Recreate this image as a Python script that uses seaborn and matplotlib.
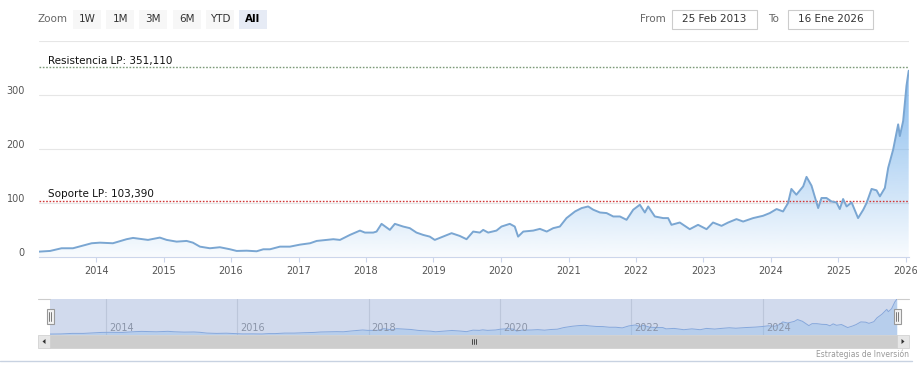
import numpy as np
import pandas as pd
import seaborn as sns
import matplotlib
matplotlib.use("Agg")
from matplotlib import pyplot as plt
import matplotlib.dates as mdates
import matplotlib.transforms as mtransforms
from matplotlib.patches import Rectangle, Polygon
from matplotlib.lines import Line2D
from matplotlib.colors import to_rgb

# datos
fechas = [
    "2013-02-25", "2013-04-27", "2013-06-28", "2013-08-29", "2013-10-15", "2013-12-08",
    "2014-01-22", "2014-04-02", "2014-06-15", "2014-07-20", "2014-09-12", "2014-10-09", "2014-12-12",
    "2015-01-18", "2015-03-13", "2015-05-06", "2015-06-09", "2015-07-17", "2015-09-09", "2015-11-02", "2015-12-27",
    "2016-02-01", "2016-03-26", "2016-05-19", "2016-06-24", "2016-07-30", "2016-09-22", "2016-11-15",
    "2017-01-08", "2017-03-04", "2017-04-09", "2017-06-02", "2017-07-08", "2017-08-13", "2017-10-06", "2017-11-29", "2017-12-26",
    "2018-02-09", "2018-02-27", "2018-03-26", "2018-05-10", "2018-06-06", "2018-07-21", "2018-08-26", "2018-10-01", "2018-11-06", "2018-12-12",
    "2019-01-08", "2019-02-22", "2019-04-09", "2019-05-23", "2019-06-29", "2019-08-04", "2019-09-09", "2019-09-27", "2019-10-24", "2019-12-08",
    "2020-01-04", "2020-02-18", "2020-03-16", "2020-04-03", "2020-05-01", "2020-06-24", "2020-07-30", "2020-09-05", "2020-10-10", "2020-11-15", "2020-12-21",
    "2021-02-05", "2021-03-13", "2021-04-17", "2021-05-15", "2021-06-20", "2021-07-26", "2021-08-31", "2021-10-06", "2021-11-11", "2021-12-17",
    "2022-01-22", "2022-02-18", "2022-03-08", "2022-04-13", "2022-05-28", "2022-06-24", "2022-07-12", "2022-08-26", "2022-10-19", "2022-12-03",
    "2023-01-18", "2023-02-22", "2023-04-09", "2023-05-15", "2023-06-29", "2023-08-04", "2023-09-27", "2023-11-20", "2023-12-26",
    "2024-02-01", "2024-03-07", "2024-04-03", "2024-04-21", "2024-05-18", "2024-06-24", "2024-07-12", "2024-08-08", "2024-09-13",
    "2024-10-01", "2024-10-28", "2024-11-24", "2024-12-21",
    "2025-01-08", "2025-01-26", "2025-02-14", "2025-03-13", "2025-04-17", "2025-05-15", "2025-06-02", "2025-06-29", "2025-07-26",
    "2025-08-13", "2025-09-09", "2025-09-27", "2025-10-24", "2025-11-20", "2025-11-29", "2025-12-17",
    "2026-01-04", "2026-01-16",
]
valores = [
    9.0, 10.3, 15.3, 15.3, 19.6, 24.6,
    25.7, 24.6, 32.1, 34.5, 32.1, 30.8, 35.1,
    30.8, 27.6, 28.9, 25.7, 18.3, 15.3, 17.2, 13.4,
    10.3, 10.8, 9.7, 13.4, 13.4, 18.3, 18.3,
    22.0, 24.6, 28.9, 30.8, 32.1, 30.8, 40.1, 48.1, 44.4,
    44.4, 46.3, 60.6, 49.4, 60.6, 55.6, 52.6, 44.4, 40.1, 36.9,
    30.8, 36.9, 43.3, 38.2, 32.1, 46.3, 44.4, 49.4, 44.4, 48.1,
    55.6, 60.6, 55.6, 36.9, 46.3, 48.1, 51.3, 46.3, 52.6, 55.6, 71.3,
    83.6, 89.9, 92.9, 86.8, 81.7, 80.6, 74.3, 74.3, 68.1, 86.8,
    96.1, 81.7, 92.9, 74.3, 71.3, 71.3, 58.8, 63.1, 50.7, 58.8,
    50.7, 63.1, 56.9, 63.1, 69.4, 64.9, 71.3, 75.6, 80.6,
    88.1, 83.6, 99.3, 125.4, 114.7, 130.2, 147.8, 131.5, 89.9,
    108.6, 108.6, 102.2, 100.4,
    88.1, 106.7, 92.9, 100.4, 71.3, 86.8, 99.3, 125.4, 122.8,
    111.6, 127.2, 164.6, 198.7, 245.3, 223.5, 251.5,
    316.8, 344.8,
]
resistencia = 351.110
soporte = 103.390
etiqueta_resistencia = "Resistencia LP: 351,110"
etiqueta_soporte = "Soporte LP: 103,390"
anios = list(range(2014, 2027))
anios_nav = list(range(2014, 2025, 2))
botones = ["1W", "1M", "3M", "6M", "YTD", "All"]
fecha_desde = "25 Feb 2013"
fecha_hasta = "16 Ene 2026"
credito = "Estrategias de Inversión"

W, H = 917, 379
sns.set_style("white")
plt.rcParams['font.family'] = ['DejaVu Sans']

df = pd.DataFrame({'fecha': pd.to_datetime(fechas), 'valor': valores})
x0, x1 = df['fecha'].iloc[0], df['fecha'].iloc[-1]
n0, n1 = mdates.date2num(x0), mdates.date2num(x1)
vmax = df['valor'].max()

fig = plt.figure(figsize=(W / 100, H / 100), dpi=100)


def caja(x, y, w, h):
    return [x / W, 1 - (y + h) / H, w / W, h / H]


def rect(x, y, w, h, **kw):
    fig.add_artist(Rectangle((x / W, 1 - (y + h) / H), w / W, h / H,
                             transform=fig.transFigure, **kw))


def texto(x, y, s, **kw):
    fig.text(x / W, 1 - y / H, s, **kw)


def linea(xs, ys, **kw):
    fig.add_artist(Line2D([v / W for v in xs], [1 - v / H for v in ys],
                          transform=fig.transFigure, **kw))


# grafico principal
ax = fig.add_axes(caja(38.8, 41, 869.9, 215.5))
sns.lineplot(data=df, x='fecha', y='valor', ax=ax, color='#7aa6d2', linewidth=1.4, zorder=4)
relleno = ax.fill_between(df['fecha'], df['valor'], 0, facecolor='none', edgecolor='none')
grad = np.zeros((256, 1, 4))
grad[..., :3] = to_rgb('#7cb5ec')
grad[..., 3] = 0.05 + 0.9 * np.linspace(0, 1, 256).reshape(-1, 1)
im = ax.imshow(grad, extent=[n0, n1, 0, vmax], origin='lower', aspect='auto', zorder=2)
im.set_clip_path(relleno.get_paths()[0], transform=ax.transData)

ax.axhline(resistencia, color='#7b9a78', lw=1, ls=(0, (1.2, 1.2)), zorder=3)
ax.axhline(soporte, color='#d03838', lw=1, ls=(0, (1.2, 1.2)), zorder=3)
ax.annotate(etiqueta_resistencia, xy=(n0, resistencia), xytext=(9, 3), textcoords='offset pixels',
            fontsize=7.5, color='#111111', va='baseline')
ax.annotate(etiqueta_soporte, xy=(n0, soporte), xytext=(9, 4), textcoords='offset pixels',
            fontsize=7.5, color='#111111', va='baseline')

ax.set_xlim(x0, x1)
ax.set_ylim(0, 400)
ax.set_yticks([0, 100, 200, 300, 400])
ax.set_yticklabels(['0', '100', '200', '300', ''])
ax.set_xticks(pd.to_datetime([f"{a}-01-01" for a in anios]))
ax.set_xticklabels([str(a) for a in anios])
ax.grid(axis='y', color='#e6e6e6', lw=0.8)
ax.grid(axis='x', visible=False)
for s in ['left', 'right', 'top']:
    ax.spines[s].set_visible(False)
ax.spines['bottom'].set_color('#ccd6eb')
ax.tick_params(axis='x', length=3.5, width=0.8, color='#ccd6eb', labelsize=7,
               labelcolor='#555555', pad=3.5, direction='out', bottom=True)
ax.tick_params(axis='y', length=0, labelsize=7, labelcolor='#555555', pad=10)
desplaza = mtransforms.ScaledTranslation(0, 5 / 100, fig.dpi_scale_trans)
for lbl in ax.get_yticklabels():
    lbl.set_transform(lbl.get_transform() + desplaza)
ax.set_xlabel('')
ax.set_ylabel('')

# navegador
axn = fig.add_axes(caja(50, 299, 847, 36))
axn.set_facecolor('#d1daed')
axn.fill_between(df['fecha'], df['valor'], 0, color='#7cb5ec', alpha=0.3, lw=0)
sns.lineplot(data=df, x='fecha', y='valor', ax=axn, color='#86a8dc', linewidth=0.7)
for a in anios_nav:
    d = mdates.date2num(pd.Timestamp(f"{a}-01-01"))
    axn.axvline(d, color='#bcc6da', lw=0.8, zorder=0.5)
    axn.annotate(str(a), xy=(d, 0), xycoords=('data', 'axes fraction'), xytext=(3, 7),
                 textcoords='offset pixels', fontsize=7, color='#8a94a8', va='center', ha='left')
axn.set_xlim(x0, x1)
axn.set_ylim(0, vmax)
axn.set_xticks([])
axn.set_yticks([])
axn.set_xlabel('')
axn.set_ylabel('')
for s in axn.spines.values():
    s.set_visible(False)

linea([38, 50], [299, 299], color='#cccccc', lw=0.8)
linea([897, 909], [299, 299], color='#cccccc', lw=0.8)

# asas del navegador
for hx in [46.7, 893.5]:
    rect(hx, 309, 7, 15, facecolor='#f2f2f2', edgecolor='#999999', lw=0.8)
    linea([hx + 2.7, hx + 2.7], [312, 321], color='#666666', lw=0.6)
    linea([hx + 4.3, hx + 4.3], [312, 321], color='#666666', lw=0.6)

# barra de desplazamiento
rect(50, 335, 847, 13, facecolor='#cdcdcd', edgecolor='#cdcdcd', lw=0.5)
rect(38, 335, 12, 13, facecolor='#e6e6e6', edgecolor='#cccccc', lw=0.5)
rect(897, 335, 12, 13, facecolor='#e6e6e6', edgecolor='#cccccc', lw=0.5)
fig.add_artist(Polygon([[42.5 / W, 1 - 341.5 / H], [45.5 / W, 1 - 339 / H], [45.5 / W, 1 - 344 / H]],
                       closed=True, transform=fig.transFigure, facecolor='#333333', lw=0))
fig.add_artist(Polygon([[904.5 / W, 1 - 341.5 / H], [901.5 / W, 1 - 339 / H], [901.5 / W, 1 - 344 / H]],
                       closed=True, transform=fig.transFigure, facecolor='#333333', lw=0))
for gx in [471.5, 473.5, 475.5]:
    linea([gx, gx], [339, 344], color='#333333', lw=0.6)

linea([0, 912], [361, 361], color='#c8d2e1', lw=1)
texto(908.5, 354.3, credito, ha='right', va='center', fontsize=5.5, color='#999999')

# selector de rango
texto(38, 19.5, "Zoom", ha='left', va='center', fontsize=7.5, color='#666666')
for i, b in enumerate(botones):
    bx = 73 + i * 33.2
    sel = b == "All"
    rect(bx, 10, 28, 19, facecolor='#e6ebf5' if sel else '#f7f7f7', edgecolor='none')
    texto(bx + 14, 19.5, b, ha='center', va='center', fontsize=7.5,
          color='#000000' if sel else '#333333', fontweight='bold' if sel else 'normal')

texto(640, 19.5, "From", ha='left', va='center', fontsize=7.5, color='#666666')
rect(672, 10, 85, 19, facecolor='white', edgecolor='#cccccc', lw=0.8)
texto(714.5, 19.5, fecha_desde, ha='center', va='center', fontsize=7.5, color='#333333')
texto(768, 19.5, "To", ha='left', va='center', fontsize=7.5, color='#666666')
rect(788, 10, 85, 19, facecolor='white', edgecolor='#cccccc', lw=0.8)
texto(830.5, 19.5, fecha_hasta, ha='center', va='center', fontsize=7.5, color='#333333')

fig.savefig('out.png', dpi=100)
